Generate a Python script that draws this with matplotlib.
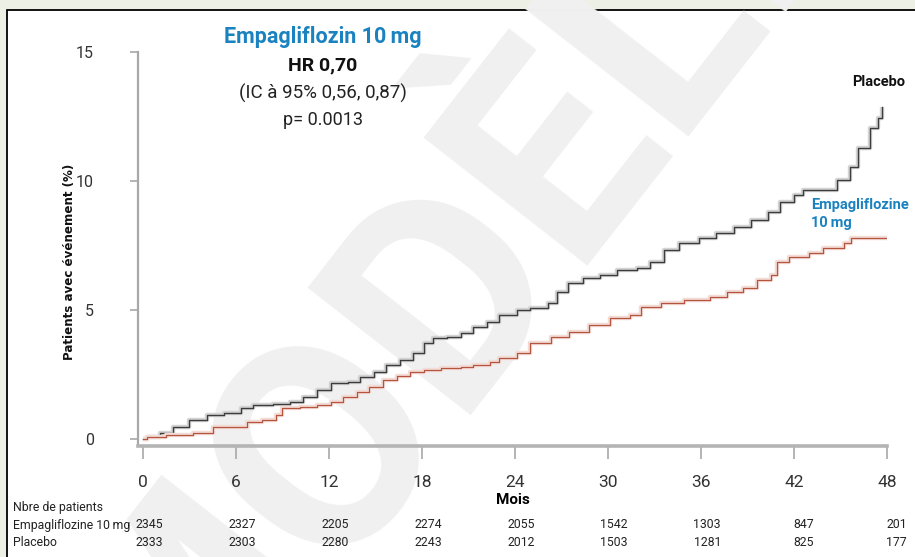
import matplotlib
matplotlib.use("Agg")
import matplotlib.pyplot as plt
from matplotlib.patches import Rectangle

# courbes (mois, % patients)
placebo_t = [0, 0.24, 1.1, 1.94, 3.0, 4.1, 5.2, 6.3, 7.1, 8.4, 9.5, 10.3, 11.2, 12.1, 13.2,
             14.0, 14.9, 15.7, 16.6, 17.4, 18.1, 18.7, 19.6, 20.5, 21.3, 22.2, 23.0, 24.1,
             25.0, 26.1, 26.7, 27.4, 28.4, 29.5, 30.6, 31.9, 32.7, 33.6, 34.6, 35.9, 37.0,
             38.1, 39.2, 40.3, 41.1, 42.0, 42.6, 44.0, 44.8, 45.6, 46.1, 46.9, 47.4, 47.7]
placebo_y = [0, 0.09, 0.22, 0.48, 0.74, 0.93, 1.0, 1.2, 1.32, 1.36, 1.43, 1.63, 1.9, 2.17, 2.2,
             2.4, 2.6, 2.87, 3.06, 3.33, 3.72, 3.91, 3.95, 4.1, 4.34, 4.53, 4.8, 5.0,
             5.08, 5.27, 5.7, 6.05, 6.24, 6.36, 6.55, 6.63, 6.86, 7.33, 7.6, 7.79, 7.98,
             8.22, 8.49, 8.8, 9.19, 9.46, 9.65, 9.65, 10.04, 10.54, 11.28, 12.05, 12.44, 12.87]

empa_t = [0, 0.24, 1.5, 3.2, 4.5, 5.8, 6.7, 7.7, 8.6, 9.0, 10.1, 11.2, 12.1, 12.9, 13.8,
          14.6, 15.5, 16.4, 17.2, 18.1, 19.2, 20.5, 21.3, 22.4, 23.0, 24.1, 25.0, 26.3,
          27.5, 28.8, 30.1, 31.4, 32.1, 33.4, 34.9, 36.6, 37.7, 38.7, 39.6, 40.5, 40.9,
          41.7, 43.0, 43.9, 45.2, 45.7, 48.0]
empa_y = [0, 0.09, 0.16, 0.23, 0.47, 0.47, 0.66, 0.74, 0.93, 1.2, 1.24, 1.32, 1.43, 1.63, 1.82,
          2.02, 2.29, 2.44, 2.6, 2.67, 2.75, 2.79, 2.87, 2.98, 3.14, 3.33, 3.72, 3.95,
          4.15, 4.42, 4.69, 4.8, 5.12, 5.27, 5.39, 5.5, 5.7, 5.85, 6.16, 6.36, 6.86,
          7.05, 7.21, 7.4, 7.6, 7.79, 7.79]

# nombre de patients a risque
risk_months = [0, 6, 12, 18, 24, 30, 36, 42, 48]
risk_empa = [2345, 2327, 2205, 2274, 2055, 1542, 1303, 847, 201]
risk_placebo = [2333, 2303, 2280, 2243, 2012, 1503, 1281, 825, 177]

plt.rcParams['font.family'] = ['Roboto', 'DejaVu Sans']
blue = '#1b82c0'
gray_ax = '#a8a8a8'

fig = plt.figure(figsize=(9.15, 5.57), dpi=100, facecolor='#edf1e5')

# panneau blanc avec bord noir
panel = Rectangle((7 / 915, -0.01), 1.0, 547 / 557 + 0.01, transform=fig.transFigure,
                  facecolor='white', edgecolor='black', lw=1.3, zorder=-2)
fig.patches.append(panel)

# filigrane
fig.text(0.50, 0.50, 'MODÈLE', fontsize=210, fontweight='bold', color='#f0f0f0',
         rotation=52, ha='center', va='center', zorder=-1)

ax = fig.add_axes([138.3 / 915, (557 - 445.5) / 557, 748.7 / 915, (445.5 - 52) / 557])
ax.set_facecolor('none')
ax.set_zorder(1)

ax.step(placebo_t, placebo_y, where='post', color='#d4d4d4', lw=3.2, solid_capstyle='butt')
ax.step(placebo_t, placebo_y, where='post', color='#3c3c3c', lw=1.0)
ax.step(empa_t, empa_y, where='post', color='#f2dcd6', lw=3.2, solid_capstyle='butt')
ax.step(empa_t, empa_y, where='post', color='#b5543f', lw=0.9)

ax.set_xlim(-0.3, 48)
ax.set_ylim(-0.25, 15)
ax.set_xticks(risk_months)
ax.set_yticks([0, 5, 10, 15])

for s in ['top', 'right']:
    ax.spines[s].set_visible(False)
ax.spines['left'].set_color(gray_ax)
ax.spines['left'].set_linewidth(1.6)
ax.spines['bottom'].set_color('#b4b4b4')
ax.spines['bottom'].set_linewidth(2.6)
ax.tick_params(axis='y', length=6, width=1.2, color=gray_ax, pad=26, labelsize=11.5,
               labelcolor='#333333')
ax.tick_params(axis='x', length=9, width=1.2, color=gray_ax, pad=12, labelsize=12.5,
               labelcolor='#333333')

fig.text(70 / 915, 1 - 262 / 557, 'Patients avec événement (%)', rotation=90,
         fontsize=8.6, fontweight='bold', ha='center', va='center', color='#111111',
         family='DejaVu Sans')
fig.text(513 / 915, 1 - 500 / 557, 'Mois', fontsize=11, fontweight='bold',
         ha='center', va='center')

# encart HR
fig.text(323 / 915, 1 - 37 / 557, 'Empagliflozin 10\u2009mg', fontsize=15.5, fontweight='bold',
         color=blue, ha='center', va='center')
fig.text(323 / 915, 1 - 65 / 557, 'HR 0,70', fontsize=14, fontweight='bold',
         color='#111111', ha='center', va='center')
fig.text(323 / 915, 1 - 93 / 557, '(IC à 95% 0,56, 0,87)', fontsize=13.5,
         color='#222222', ha='center', va='center')
fig.text(323 / 915, 1 - 120 / 557, 'p= 0.0013', fontsize=13,
         color='#222222', ha='center', va='center')

fig.text(905 / 915, 1 - 82 / 557, 'Placebo', fontsize=10.5, fontweight='bold',
         color='#111111', ha='right', va='center')
fig.text(811 / 915, 1 - 214 / 557, 'Empagliflozine\n10\u2009mg', fontsize=10.5, fontweight='bold',
         color=blue, ha='left', va='center', linespacing=1.35)

# tableau des patients a risque
fs_tab = 8.8
fig.text(13 / 915, 1 - 507 / 557, 'Nbre de patients', fontsize=fs_tab, color='#222222',
         ha='left', va='center')
fig.text(13 / 915, 1 - 525 / 557, 'Empagliflozine 10\u2009mg', fontsize=fs_tab, color='#222222',
         ha='left', va='center')
fig.text(13 / 915, 1 - 542 / 557, 'Placebo', fontsize=fs_tab, color='#222222',
         ha='left', va='center')
for m, a, b in zip(risk_months, risk_empa, risk_placebo):
    xpix = 138.3 + (m + 0.3) / 48.3 * 748.7 + 20
    fig.text(xpix / 915, 1 - 525 / 557, str(a), fontsize=fs_tab, color='#222222',
             ha='right', va='center')
    fig.text(xpix / 915, 1 - 542 / 557, str(b), fontsize=fs_tab, color='#222222',
             ha='right', va='center')

fig.savefig('out.png', dpi=100, facecolor=fig.get_facecolor())
